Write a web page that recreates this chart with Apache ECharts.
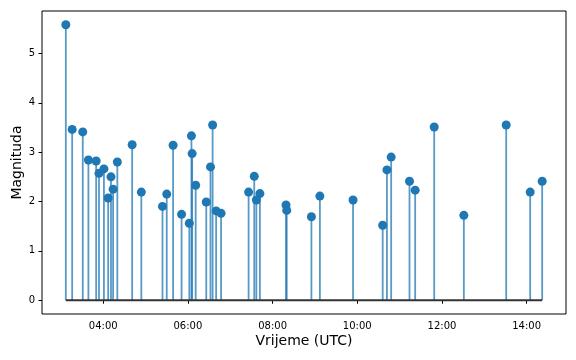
<!DOCTYPE html>
<html>
<head>
<meta charset="utf-8">
<script src="https://cdn.jsdelivr.net/npm/echarts@6/dist/echarts.min.js"></script>
<style>html,body{margin:0;padding:0;background:#fff}#c{width:576px;height:360px}</style>
</head>
<body>
<div id="c"></div>
<script>
var times = ['03:07','03:16','03:31','03:39','03:50','03:54','04:01','04:07','04:11','04:14',
  '04:20','04:41','04:54','05:24','05:30','05:39','05:51','06:02','06:05','06:06',
  '06:11','06:26','06:32','06:35','06:40','06:47','07:26','07:34','07:37','07:42',
  '08:19','08:20','08:55','09:07','09:54','10:36','10:42','10:48','11:14','11:22',
  '11:49','12:31','13:31','14:05','14:22'];
var magnitudes = [5.58,3.46,3.41,2.84,2.82,2.57,2.66,2.07,2.50,2.25,
  2.80,3.15,2.19,1.90,2.15,3.14,1.74,1.56,3.33,2.97,
  2.33,1.99,2.70,3.55,1.81,1.76,2.19,2.51,2.03,2.16,
  1.93,1.82,1.69,2.11,2.03,1.52,2.64,2.90,2.41,2.23,
  3.51,1.72,3.55,2.19,2.41];
var xTickLabels = ['04:00','06:00','08:00','10:00','12:00','14:00'];
var yTickValues = [0,1,2,3,4,5];
var xAxisTitle = 'Vrijeme (UTC)';
var yAxisTitle = 'Magnituda';

function toMin(s){var p=s.split(':');return (+p[0])*60+(+p[1]);}
var tMin = times.map(toMin);
var xTickValues = xTickLabels.map(toMin);
var pts = tMin.map(function(t,i){return [t, magnitudes[i]];});
var t0 = Math.min.apply(null,tMin), t1 = Math.max.apply(null,tMin);
var xPad = (t1-t0)*0.05;
var yMax = Math.max.apply(null,magnitudes), yPad = yMax*0.05;

var chart = echarts.init(document.getElementById('c'), null, {renderer:'canvas'});
var font = 'DejaVu Sans';
chart.setOption({
  animation:false,
  backgroundColor:'#fff',
  grid:{left:42,right:10,top:11,bottom:46,outerBoundsMode:'none',containLabel:false,show:true,borderColor:'#000',borderWidth:1,backgroundColor:'transparent'},
  xAxis:{type:'value',min:t0-xPad,max:t1+xPad,
    name:xAxisTitle,nameLocation:'middle',nameGap:20,nameMoveOverlap:false,
    nameTextStyle:{fontFamily:font,fontSize:14,color:'#000'},
    axisLine:{show:false},splitLine:{show:false},
    axisTick:{show:true,length:3.5,lineStyle:{color:'#000'},customValues:xTickValues},
    axisLabel:{fontFamily:font,fontSize:10,color:'#000',margin:7,customValues:xTickValues,
      formatter:function(v){var h=Math.floor(v/60),m=Math.round(v%60);return (h<10?'0':'')+h+':'+(m<10?'0':'')+m;}}
  },
  yAxis:{type:'value',min:-yPad,max:yMax+yPad,
    name:yAxisTitle,nameLocation:'middle',nameGap:18,nameRotate:90,nameMoveOverlap:false,
    nameTextStyle:{fontFamily:font,fontSize:14,color:'#000'},
    axisLine:{show:false},splitLine:{show:false},
    axisTick:{show:true,length:3.5,lineStyle:{color:'#000'},customValues:yTickValues},
    axisLabel:{fontFamily:font,fontSize:10,color:'#000',margin:7,customValues:yTickValues,formatter:function(v){return String(Math.round(v));}}
  },
  series:[
    {type:'custom',z:1,data:pts,
      renderItem:function(params,api){
        var top=api.coord([api.value(0),api.value(1)]);
        var bot=api.coord([api.value(0),0]);
        return {type:'line',shape:{x1:top[0],y1:top[1],x2:bot[0],y2:bot[1]},
          style:{stroke:'#1f77b4',lineWidth:1.8,opacity:0.75}};
      }},
    {type:'line',z:2,data:[[t0,0],[t1,0]],symbol:'none',lineStyle:{color:'#333',width:2}},
    {type:'scatter',z:3,data:pts,symbol:'circle',symbolSize:9,itemStyle:{color:'#1f77b4',opacity:1}}
  ]
});
</script>
</body>
</html>
